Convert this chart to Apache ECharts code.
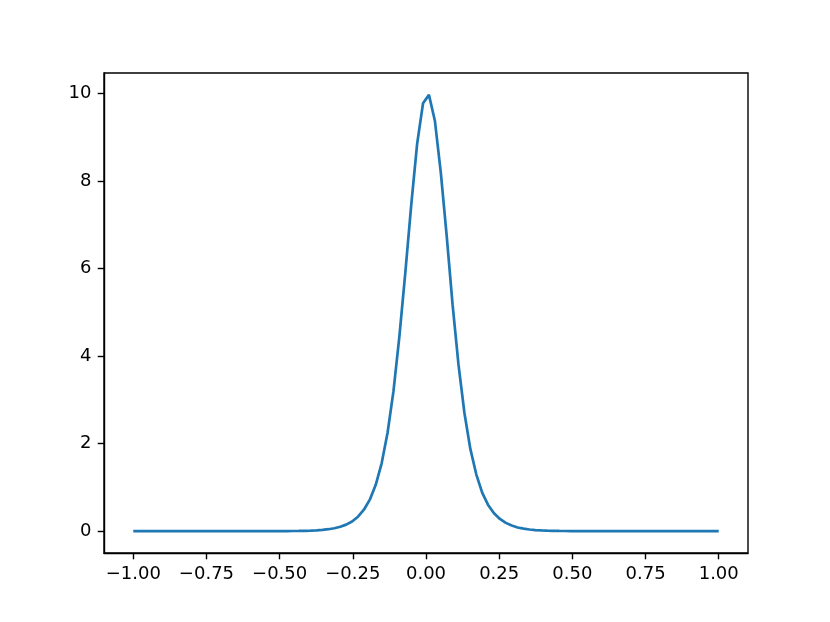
<!DOCTYPE html>
<html>
<head>
<meta charset="utf-8">
<script src="https://cdn.jsdelivr.net/npm/echarts@6/dist/echarts.min.js"></script>
<style>html,body{margin:0;padding:0;background:#fff;}#c{width:830px;height:622px;}</style>
</head>
<body>
<div id="c"></div>
<script>
const xValues = [
-1.0000,-0.9798,-0.9596,-0.9394,-0.9192,-0.8990,-0.8788,-0.8586,-0.8384,-0.8182,
-0.7980,-0.7778,-0.7576,-0.7374,-0.7172,-0.6970,-0.6768,-0.6566,-0.6364,-0.6162,
-0.5960,-0.5758,-0.5556,-0.5354,-0.5152,-0.4949,-0.4747,-0.4545,-0.4343,-0.4141,
-0.3939,-0.3737,-0.3535,-0.3333,-0.3131,-0.2929,-0.2727,-0.2525,-0.2323,-0.2121,
-0.1919,-0.1717,-0.1515,-0.1313,-0.1111,-0.0909,-0.0707,-0.0505,-0.0303,-0.0101,
0.0101,0.0303,0.0505,0.0707,0.0909,0.1111,0.1313,0.1515,0.1717,0.1919,
0.2121,0.2323,0.2525,0.2727,0.2929,0.3131,0.3333,0.3535,0.3737,0.3939,
0.4141,0.4343,0.4545,0.4747,0.4949,0.5152,0.5354,0.5556,0.5758,0.5960,
0.6162,0.6364,0.6566,0.6768,0.6970,0.7172,0.7374,0.7576,0.7778,0.7980,
0.8182,0.8384,0.8586,0.8788,0.8990,0.9192,0.9394,0.9596,0.9798,1.0000
];
const yValues = [
0,0,0,0,0,0,0,0,0,0,
0,0,0,0,0,0,0,0,0,0,
0,0,0,0,0,0.002,0.003,0.004,0.006,0.009,
0.013,0.02,0.03,0.045,0.067,0.10,0.15,0.22,0.33,0.49,
0.72,1.06,1.55,2.25,3.2,4.45,5.9,7.45,8.85,9.78,
9.97,9.38,8.2,6.75,5.17,3.8,2.7,1.88,1.3,0.88,
0.6,0.41,0.28,0.19,0.13,0.085,0.058,0.039,0.026,0.018,
0.012,0.008,0.005,0.004,0.002,0,0,0,0,0,
0,0,0,0,0,0,0,0,0,0,
0,0,0,0,0,0,0,0,0,0
];
const xTicks = [-1, -0.75, -0.5, -0.25, 0, 0.25, 0.5, 0.75, 1];
const yTicks = [0, 2, 4, 6, 8, 10];

const data = xValues.map((x, i) => [x, yValues[i]]);
const fmt = (v, d) => { const s = Math.abs(v).toFixed(d); return (v < -1e-9 ? '\u2212' : '') + s; };
const labelFont = { fontFamily: 'DejaVu Sans', fontSize: 18, color: '#000' };

const chart = echarts.init(document.getElementById('c'), null, { renderer: 'canvas' });
chart.setOption({
  animation: false,
  backgroundColor: '#fff',
  grid: { left: 104, right: 82, top: 73, bottom: 69, show: true, borderColor: '#000', borderWidth: 1.4, backgroundColor: 'transparent' },
  xAxis: {
    type: 'value', min: -1.1, max: 1.1,
    axisLine: { show: true, onZero: false, lineStyle: { color: '#000', width: 1.4 } },
    axisTick: { show: true, length: 6.3, lineStyle: { color: '#000', width: 1.4 }, customValues: xTicks },
    axisLabel: Object.assign({ margin: 12, customValues: xTicks, formatter: v => fmt(v, 2) }, labelFont),
    splitLine: { show: false }
  },
  yAxis: {
    type: 'value', min: -0.4985, max: 10.47,
    axisLine: { show: true, onZero: false, lineStyle: { color: '#000', width: 1.4 } },
    axisTick: { show: true, length: 6.3, lineStyle: { color: '#000', width: 1.4 }, customValues: yTicks },
    axisLabel: Object.assign({ margin: 12.6, customValues: yTicks, formatter: v => fmt(v, 0) }, labelFont),
    splitLine: { show: false }
  },
  series: [{
    type: 'line', data: data, showSymbol: false, smooth: false,
    lineStyle: { color: '#1f77b4', width: 2.7 }, clip: true
  }]
});
</script>
</body>
</html>
